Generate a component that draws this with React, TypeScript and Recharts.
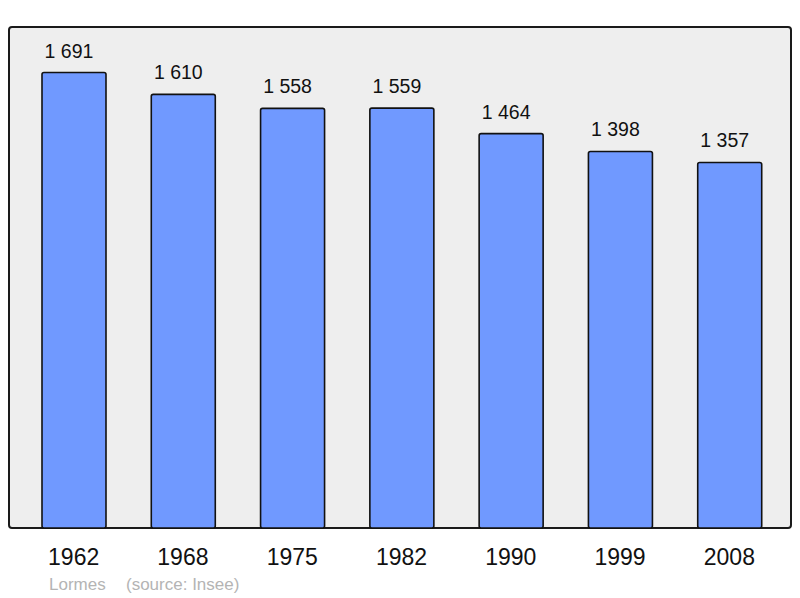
import { BarChart, Bar, XAxis, YAxis, LabelList } from 'recharts'

const years = ['1962', '1968', '1975', '1982', '1990', '1999', '2008']
const population = [1691, 1610, 1558, 1559, 1464, 1398, 1357]
const town = 'Lormes'
const source = '(source: Insee)'

const data = years.map((y, i) => ({ year: y, pop: population[i] }))

const font = '"Liberation Sans", Arial, sans-serif'

// "1691" -> "1 691"
const fmt = (v: number) => String(v).replace(/\B(?=(\d{3})+(?!\d))/g, ' ')

function YearTick(props: any) {
  const { x, y, payload } = props
  return (
    <text x={x} y={y} dy={37} textAnchor="middle" fontSize={23} fill="#111" fontFamily={font}>
      {payload.value}
    </text>
  )
}

function ValueLabel(props: any) {
  const { x, y, width, value } = props
  return (
    <text x={x + width / 2 - 5} y={y - 15} textAnchor="middle" fontSize={19.5} fill="#111" fontFamily={font}>
      {fmt(value)}
    </text>
  )
}

export default function App() {
  return (
    <div style={{ position: 'absolute', left: 0, top: 0, width: 800, height: 598, background: '#fff' }}>
      {/* plot frame */}
      <div
        style={{
          position: 'absolute',
          left: 8,
          top: 26,
          width: 784,
          height: 503,
          boxSizing: 'border-box',
          border: '2px solid #1a1a1a',
          borderRadius: 4,
          background: '#eeeeee'
        }}
      />
      <div style={{ position: 'absolute', left: 0, top: 0 }}>
        <BarChart
          width={800}
          height={598}
          data={data}
          margin={{ top: 27, right: 9, left: 9, bottom: 0 }}
        >
          <YAxis hide domain={[0, 1860]} />
          <XAxis
            dataKey="year"
            height={70}
            axisLine={false}
            tickLine={false}
            tickSize={0}
            tickMargin={0}
            padding={{ left: 10, right: 7 }}
            tick={<YearTick />}
            interval={0}
          />
          <Bar dataKey="pop" fill="#7099ff" stroke="#111" strokeWidth={1.6} barSize={64} radius={2} isAnimationActive={false}>
            <LabelList dataKey="pop" content={<ValueLabel />} />
          </Bar>
        </BarChart>
      </div>
      <svg width={800} height={598} style={{ position: 'absolute', left: 0, top: 0, pointerEvents: 'none' }}>
        <text x={49} y={590} fontSize={17} fill="#b4b4b4" fontFamily={font}>{town}</text>
        <text x={126} y={590} fontSize={17} fill="#b4b4b4" fontFamily={font}>{source}</text>
      </svg>
    </div>
  )
}
